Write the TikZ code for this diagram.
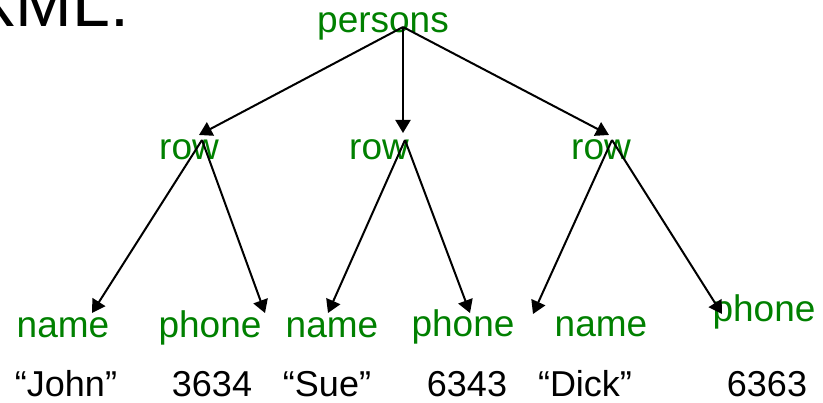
\documentclass[tikz,border=0pt]{standalone}
\usepackage{fontspec}
\setmainfont{Liberation Sans}
\usetikzlibrary{arrows.meta}
\definecolor{lblgreen}{RGB}{0,128,0}
\begin{document}
\begin{tikzpicture}[x=1pt,y=-1pt,
  tag/.style={text=lblgreen,font=\fontsize{37}{40}\selectfont,inner sep=0pt,anchor=base},
  val/.style={text=black,font=\fontsize{36}{40}\selectfont,inner sep=0pt,anchor=base},
  edge/.style={line width=2pt,-{Triangle[length=13pt,width=15pt]}}]
\useasboundingbox (0,0) rectangle (823,403);
% title (partly cut off)
\node[anchor=base west,inner sep=0pt,font=\fontsize{68}{72}\selectfont] (title) at (-30,27) {XML:};
% tree labels
\node[tag] (persons) at (383,33) {persons};
\node[tag] (row1) at (189,160) {row};
\node[tag] (row2) at (379,160) {row};
\node[tag] (row3) at (601,160) {row};
\node[tag] (name1) at (63,338) {name};
\node[tag] (phone1) at (210,338) {phone};
\node[tag] (name2) at (332,338) {name};
\node[tag] (phone2) at (463,337) {phone};
\node[tag] (name3) at (601,337) {name};
\node[tag] (phone3) at (764,322) {phone};
% values
\node[val] (v1) at (66,397) {“John”};
\node[val] (v2) at (212,397) {3634};
\node[val] (v3) at (327,397) {“Sue”};
\node[val] (v4) at (467,397) {6343};
\node[val] (v5) at (585,397) {“Dick”};
\node[val] (v6) at (767,397) {6363};
% connector end points
\coordinate (pO) at (403,27);
\coordinate (r1in) at (199,135);
\coordinate (r2in) at (403,133);
\coordinate (r3in) at (609,135);
\coordinate (r1O) at (202,140);
\coordinate (r2O) at (405,140);
\coordinate (r3O) at (612,140);
\coordinate (n1in) at (92,313);
\coordinate (p1in) at (265,313);
\coordinate (n2in) at (328,313);
\coordinate (p2in) at (470,313);
\coordinate (n3in) at (533,314);
\coordinate (p3in) at (722,314);
% connectors
\draw[edge] (pO) -- (r1in);
\draw[edge] (pO) -- (r2in);
\draw[edge] (pO) -- (r3in);
\draw[edge] (r1O) -- (n1in);
\draw[edge] (r1O) -- (p1in);
\draw[edge] (r2O) -- (n2in);
\draw[edge] (r2O) -- (p2in);
\draw[edge] (r3O) -- (n3in);
\draw[edge] (r3O) -- (p3in);
\end{tikzpicture}
\end{document}
